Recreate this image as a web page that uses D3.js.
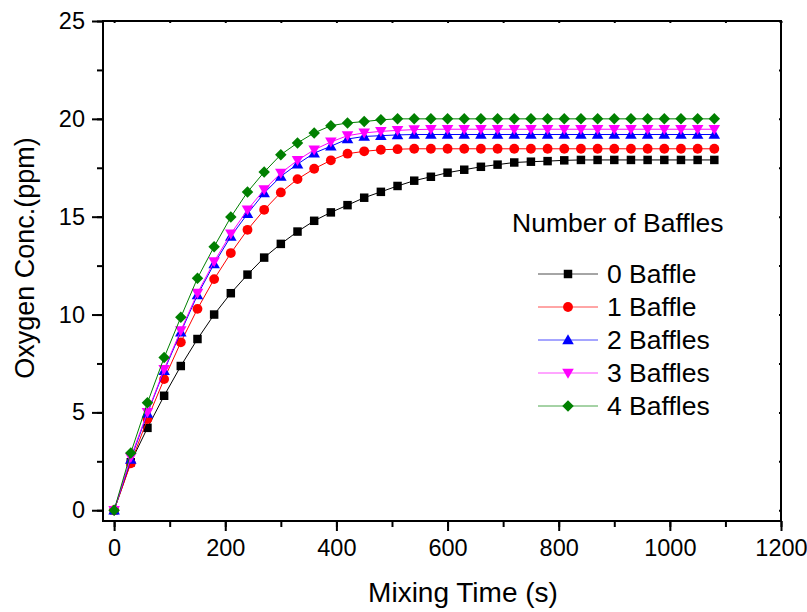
<!DOCTYPE html>
<html>
<head>
<meta charset="utf-8">
<script src="https://cdn.jsdelivr.net/npm/d3@7"></script>
<style>
  body { margin: 0; background: #fff; }
  text { font-family: "Liberation Sans", Arial, sans-serif; }
</style>
</head>
<body>
<div id="wrapper"></div>
<script>
// mixing time (s)
const times = [0, 30, 60, 90, 120, 150, 180, 210, 240, 270, 300, 330, 360, 390, 420, 450,
  480, 510, 540, 570, 600, 630, 660, 690, 720, 750, 780, 810, 840, 870, 900, 930, 960,
  990, 1020, 1050, 1080]

const baffle0 = [0, 2.45, 4.21, 5.85, 7.37, 8.75, 10.0, 11.09, 12.04, 12.91, 13.61, 14.24,
  14.79, 15.22, 15.59, 15.97, 16.27, 16.57, 16.84, 17.04, 17.25, 17.40, 17.55, 17.66, 17.77,
  17.81, 17.84, 17.88, 17.9, 17.9, 17.9, 17.9, 17.9, 17.9, 17.9, 17.9, 17.9]
const baffle1 = [0, 2.4, 4.66, 6.7, 8.58, 10.29, 11.81, 13.14, 14.33, 15.35, 16.24, 16.92,
  17.45, 17.88, 18.22, 18.34, 18.42, 18.45, 18.47, 18.47, 18.47, 18.47, 18.47, 18.47, 18.47,
  18.47, 18.47, 18.47, 18.47, 18.47, 18.47, 18.47, 18.47, 18.47, 18.47, 18.47, 18.47]
const baffle2 = [0, 2.6, 4.95, 7.13, 9.1, 11.0, 12.59, 13.99, 15.15, 16.21, 17.06, 17.69,
  18.25, 18.6, 18.97, 19.1, 19.14, 19.18, 19.2, 19.2, 19.2, 19.2, 19.2, 19.2, 19.2, 19.2,
  19.2, 19.2, 19.2, 19.2, 19.2, 19.2, 19.2, 19.2, 19.2, 19.2, 19.2]
const baffle3 = [0, 2.7, 5.0, 7.2, 9.18, 11.09, 12.71, 14.12, 15.35, 16.38, 17.23, 17.88,
  18.42, 18.82, 19.14, 19.28, 19.36, 19.41, 19.45, 19.47, 19.47, 19.47, 19.47, 19.47, 19.47,
  19.47, 19.47, 19.47, 19.47, 19.47, 19.47, 19.47, 19.47, 19.47, 19.47, 19.47, 19.47]
const baffle4 = [0, 2.93, 5.49, 7.8, 9.86, 11.86, 13.47, 14.98, 16.26, 17.28, 18.17, 18.77,
  19.28, 19.65, 19.79, 19.86, 19.95, 20.0, 20.0, 20.0, 20.0, 20.0, 20.0, 20.0, 20.0, 20.0,
  20.0, 20.0, 20.0, 20.0, 20.0, 20.0, 20.0, 20.0, 20.0, 20.0, 20.0]

const seriesNames = ["0 Baffle", "1 Baffle", "2 Baffles", "3 Baffles", "4 Baffles"]
const seriesValues = [baffle0, baffle1, baffle2, baffle3, baffle4]
const seriesColors = ["#000000", "#ff0000", "#0000ff", "#ff00ff", "#008000"]

const xTicks = [0, 200, 400, 600, 800, 1000, 1200]
const yTicks = [0, 5, 10, 15, 20, 25]

const width = 807
const height = 612
const margin = { top: 21, right: 26, bottom: 91, left: 103 }
const boundedWidth = width - margin.left - margin.right
const boundedHeight = height - margin.top - margin.bottom

const svg = d3.select("#wrapper")
  .append("svg")
  .attr("width", width)
  .attr("height", height)

const bounds = svg.append("g")
  .attr("transform", `translate(${margin.left},${margin.top})`)

const xScale = d3.scaleLinear()
  .domain([-20, 1200])
  .range([0, boundedWidth])
const yScale = d3.scaleLinear()
  .domain([-0.55, 25])
  .range([boundedHeight, 0])

// markers
const markerPath = [
  d3.symbol().type(d3.symbolSquare).size(72)(),
  d3.symbol().type(d3.symbolCircle).size(76)(),
  d3.symbol().type(d3.symbolTriangle).size(58)(),
  d3.symbol().type(d3.symbolTriangle).size(58)(),
  d3.symbol().type(d3.symbolSquare).size(66)(),
]
const markerRotate = [0, 0, 0, 180, 45]
const markerOffset = [0, 0, 1, -1, 0]

const line = d3.line()
  .x(d => xScale(d[0]))
  .y(d => yScale(d[1]))

seriesValues.forEach((vals, i) => {
  const pts = times.map((t, j) => [t, vals[j]])
  const g = bounds.append("g")
  g.append("path")
    .attr("d", line(pts))
    .attr("fill", "none")
    .attr("stroke", seriesColors[i])
    .attr("stroke-width", 1)
  g.selectAll("path.mark")
    .data(pts)
    .join("path")
    .attr("class", "mark")
    .attr("d", markerPath[i])
    .attr("fill", seriesColors[i])
    .attr("transform", d => `translate(${xScale(d[0])},${yScale(d[1]) + markerOffset[i]}) rotate(${markerRotate[i]})`)
})

// axes
const axisFont = "23.5px"
const xMinor = d3.range(0, 1201, 100)
const yMinor = d3.range(0, 25.1, 2.5)

bounds.append("g")
  .attr("transform", `translate(0,${boundedHeight})`)
  .call(d3.axisBottom(xScale).tickValues(xMinor).tickSize(6).tickFormat(""))
const xAxis = bounds.append("g")
  .attr("transform", `translate(0,${boundedHeight})`)
  .call(d3.axisBottom(xScale).tickValues(xTicks).tickSize(10).tickPadding(8).tickFormat(d3.format("d")))
xAxis.selectAll("text").style("font-size", axisFont).attr("fill", "#000")

bounds.append("g")
  .call(d3.axisLeft(yScale).tickValues(yMinor).tickSize(6).tickFormat(""))
const yAxis = bounds.append("g")
  .call(d3.axisLeft(yScale).tickValues(yTicks).tickSize(11).tickPadding(7).tickFormat(d3.format("d")))
yAxis.selectAll("text").style("font-size", axisFont).attr("fill", "#000")

// top and right: short inward ticks
bounds.append("g")
  .call(d3.axisTop(xScale).tickValues(xMinor).tickSize(-2).tickFormat(""))
bounds.append("g")
  .attr("transform", `translate(${boundedWidth},0)`)
  .call(d3.axisRight(yScale).tickValues(yMinor).tickSize(-2).tickFormat(""))

bounds.selectAll(".domain").remove()
bounds.selectAll(".tick line").attr("stroke", "#000").attr("stroke-width", 2)

bounds.append("rect")
  .attr("width", boundedWidth)
  .attr("height", boundedHeight)
  .attr("fill", "none")
  .attr("stroke", "#000")
  .attr("stroke-width", 2)

// axis titles
svg.append("text")
  .attr("x", 463)
  .attr("y", 602)
  .attr("text-anchor", "middle")
  .style("font-size", "28px")
  .text("Mixing Time (s)")
svg.append("text")
  .attr("transform", "translate(34,258) rotate(-90)")
  .attr("text-anchor", "middle")
  .style("font-size", "27px")
  .text("Oxygen Conc.(ppm)")

// legend
const legendFont = "26.5px"
const legend = svg.append("g")
legend.append("text")
  .attr("x", 512)
  .attr("y", 232)
  .style("font-size", legendFont)
  .text("Number of Baffles")

seriesNames.forEach((name, i) => {
  const y = 274 + i * 33
  legend.append("line")
    .attr("x1", 538).attr("x2", 598)
    .attr("y1", y).attr("y2", y)
    .attr("stroke", seriesColors[i])
    .attr("stroke-opacity", 0.7)
  legend.append("path")
    .attr("d", markerPath[i])
    .attr("fill", seriesColors[i])
    .attr("transform", `translate(568,${y + markerOffset[i]}) rotate(${markerRotate[i]})`)
  legend.append("text")
    .attr("x", 607)
    .attr("y", y)
    .attr("dy", "0.35em")
    .style("font-size", legendFont)
    .text(name)
})
</script>
</body>
</html>
